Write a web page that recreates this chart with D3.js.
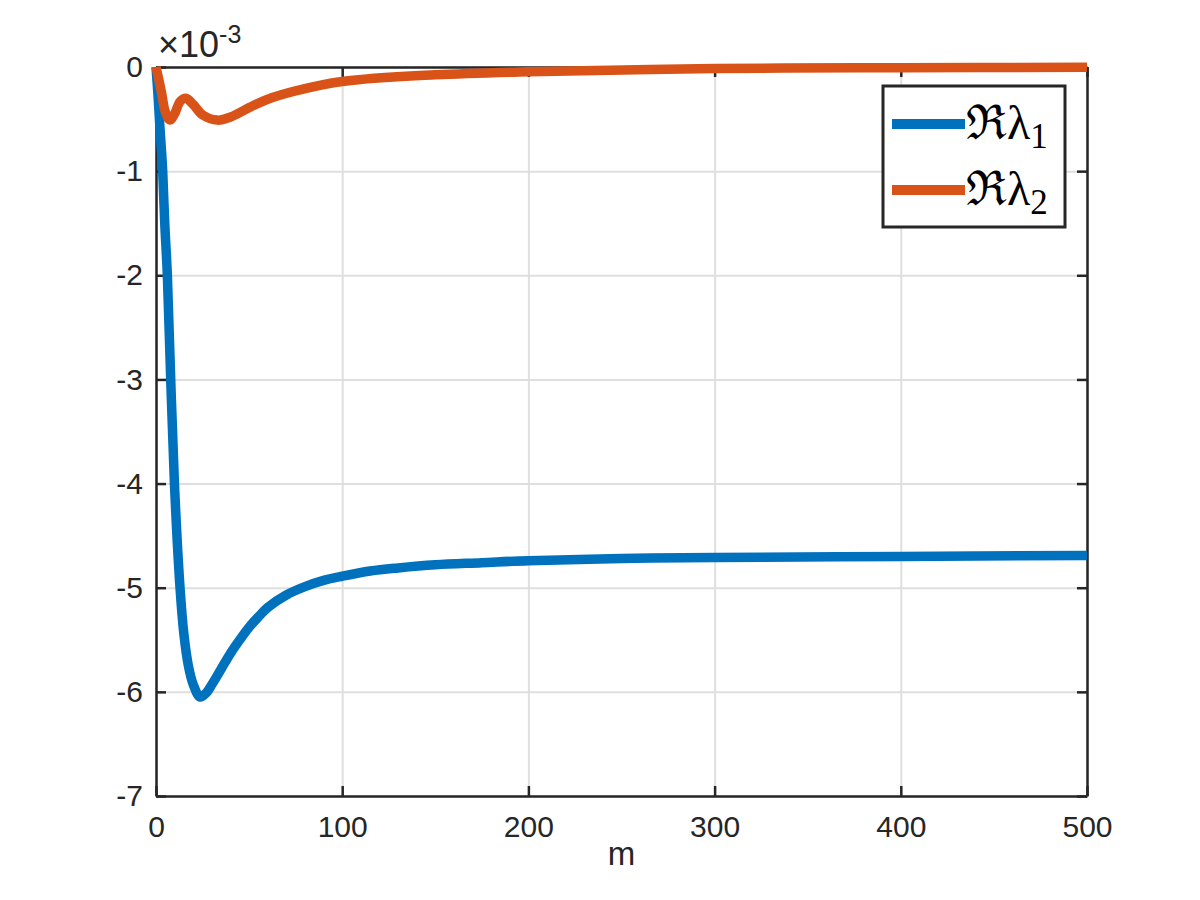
<!DOCTYPE html>
<html>
<head>
<meta charset="utf-8">
<script src="https://cdn.jsdelivr.net/npm/d3@7"></script>
<style>
  body { margin: 0; background: #fff; }
  text { font-family: "Liberation Sans", Arial, sans-serif; fill: #262626; }
</style>
</head>
<body>
<div id="chart"></div>
<script>
// Data (values in units of 1e-3)
const m1 = [0, 1, 2, 3, 3.6, 4.7, 6.1, 7.9, 9.9, 12.9, 15, 17.4, 20, 23.7, 27, 30, 35, 40, 45, 50, 55, 60, 70, 80, 90, 100, 115, 130, 150, 175, 200, 250, 300, 400, 500];
const lambda1 = [0, -0.25, -0.55, -0.82, -1, -1.5, -2, -3, -4, -5, -5.45, -5.75, -5.93, -6.05, -6.01, -5.93, -5.78, -5.63, -5.5, -5.38, -5.28, -5.19, -5.07, -4.99, -4.93, -4.89, -4.84, -4.81, -4.78, -4.76, -4.74, -4.72, -4.71, -4.70, -4.69];

const m2 = [0, 1.5, 3, 5, 7.5, 10, 13, 16, 20, 25, 33, 40, 50, 60, 75, 100, 150, 200, 300, 400, 500];
const lambda2 = [0, -0.12, -0.25, -0.43, -0.51, -0.45, -0.33, -0.30, -0.36, -0.46, -0.51, -0.48, -0.39, -0.31, -0.23, -0.14, -0.075, -0.045, -0.015, -0.007, -0.003];

const xTicks = [0, 100, 200, 300, 400, 500];
const yTicks = [0, -1, -2, -3, -4, -5, -6, -7];
const legendSubs = ["1", "2"];
const colors = ["#0072BD", "#D95319"];

const chartWidth = 1200, chartHeight = 900;
const plotLeft = 156, plotRight = 1087, plotTop = 67, plotBottom = 796;

const x = d3.scaleLinear().domain([0, 500]).range([plotLeft, plotRight]);
const y = d3.scaleLinear().domain([-7, 0]).range([plotBottom, plotTop]);

const svg = d3.select("#chart").append("svg")
  .attr("width", chartWidth).attr("height", chartHeight);

// grid
const gx = svg.append("g")
  .attr("transform", `translate(0,${plotBottom})`)
  .call(d3.axisBottom(x).tickValues(xTicks).tickSize(-(plotBottom - plotTop)).tickFormat(""));
const gy = svg.append("g")
  .attr("transform", `translate(${plotLeft},0)`)
  .call(d3.axisLeft(y).tickValues(yTicks).tickSize(-(plotRight - plotLeft)).tickFormat(""));
[gx, gy].forEach(g => {
  g.select(".domain").remove();
  g.selectAll("line").attr("stroke", "#dfdfdf").attr("stroke-width", 2);
});

// axes with inward ticks
const fmt = d => String(d);
const styleAxis = g => {
  g.select(".domain").attr("stroke", "#262626").attr("stroke-width", 2.5);
  g.selectAll(".tick line").attr("stroke", "#262626").attr("stroke-width", 2.5);
  g.selectAll("text").attr("font-size", 30).attr("fill", "#262626")
    .style("font-family", "'Liberation Sans', Arial, sans-serif");
};
svg.append("g").attr("transform", `translate(0,${plotBottom})`)
  .call(d3.axisBottom(x).tickValues(xTicks).tickSizeInner(-10).tickSizeOuter(0).tickPadding(20).tickFormat(fmt))
  .call(styleAxis);
svg.append("g").attr("transform", `translate(0,${plotTop})`)
  .call(d3.axisTop(x).tickValues(xTicks).tickSizeInner(-10).tickSizeOuter(0).tickFormat(""))
  .call(styleAxis);
svg.append("g").attr("transform", `translate(${plotLeft},0)`)
  .call(d3.axisLeft(y).tickValues(yTicks).tickSizeInner(-10).tickSizeOuter(0).tickPadding(13).tickFormat(fmt))
  .call(styleAxis);
svg.append("g").attr("transform", `translate(${plotRight},0)`)
  .call(d3.axisRight(y).tickValues(yTicks).tickSizeInner(-10).tickSizeOuter(0).tickFormat(""))
  .call(styleAxis);

// exponent label
const ex = svg.append("text").attr("x", plotLeft + 2).attr("y", 57).attr("font-size", 36);
ex.append("tspan").text("×10");
ex.append("tspan").attr("font-size", 25).attr("dy", -14).text("-3");

// x label
svg.append("text").attr("x", (plotLeft + plotRight) / 2).attr("y", 865)
  .attr("text-anchor", "middle").attr("font-size", 33).text("m");

// lines
const line = d3.line()
  .x(d => x(d[0]))
  .y(d => y(d[1]))
  .curve(d3.curveCatmullRom.alpha(0.5));

const series = [d3.zip(m1, lambda1), d3.zip(m2, lambda2)];
series.forEach((s, i) => {
  svg.append("path")
    .datum(s)
    .attr("fill", "none")
    .attr("stroke", colors[i])
    .attr("stroke-width", 9.5)
    .attr("stroke-linejoin", "round")
    .attr("d", line);
});

// legend
const lg = svg.append("g");
lg.append("rect")
  .attr("x", 883).attr("y", 86).attr("width", 182).attr("height", 141)
  .attr("fill", "#fff").attr("stroke", "#262626").attr("stroke-width", 3);
legendSubs.forEach((sub, i) => {
  const ly = 124 + i * 66;
  lg.append("line")
    .attr("x1", 892).attr("x2", 965).attr("y1", ly).attr("y2", ly)
    .attr("stroke", colors[i]).attr("stroke-width", 10);
  const t = lg.append("text").attr("x", 966).attr("y", ly + 15)
    .attr("font-size", 48).style("fill", "#000");
  t.append("tspan").style("font-family", "'DejaVu Serif', serif").text("ℜ");
  t.append("tspan").style("font-family", "'Liberation Serif', serif").text("λ");
  t.append("tspan").style("font-family", "'Liberation Serif', serif").attr("font-size", 35).attr("dy", 9).text(sub);
});
</script>
</body>
</html>
